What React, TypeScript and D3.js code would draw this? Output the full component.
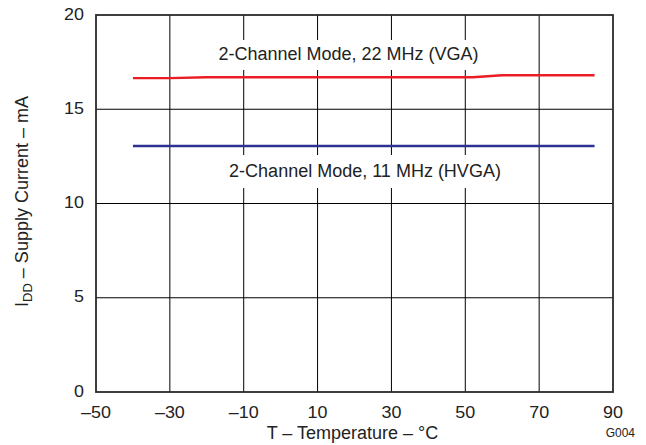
import React from "react";
import * as d3 from "d3";

const temps = [-40, -30, -20, -10, 0, 10, 20, 30, 40, 50, 52, 60, 70, 80, 85];
const vga22 = [16.65, 16.65, 16.7, 16.7, 16.7, 16.7, 16.7, 16.7, 16.7, 16.7, 16.7, 16.8, 16.8, 16.8, 16.8];
const hvga11 = [13.05, 13.05, 13.05, 13.05, 13.05, 13.05, 13.05, 13.05, 13.05, 13.05, 13.05, 13.05, 13.05, 13.05, 13.05];
const xTicks = [-50, -30, -10, 10, 30, 50, 70, 90];
const yTicks = [0, 5, 10, 15, 20];
const labelTop = "2-Channel Mode, 22 MHz (VGA)";
const labelBottom = "2-Channel Mode, 11 MHz (HVGA)";

const W = 646;
const H = 445;
const FONT = "'Liberation Sans', Arial, Helvetica, sans-serif";

export default function App() {
  const x = d3.scaleLinear().domain([-50, 90]).range([96, 613]);
  const y = d3.scaleLinear().domain([0, 20]).range([392, 15]);
  const line = d3
    .line<number>()
    .x((_, i) => x(temps[i]))
    .y((d) => y(d));

  const sx = 1.12;
  const tickFs = 16;

  return (
    <svg
      width={W}
      height={H}
      style={{ position: "absolute", left: 0, top: 0, background: "#fff" }}
      fontFamily={FONT}
    >
      <rect x={0} y={0} width={W} height={H} fill="#fff" />
      {/* grid */}
      {xTicks.slice(1, -1).map((t) => (
        <line key={"gx" + t} x1={x(t)} x2={x(t)} y1={y(20)} y2={y(0)} stroke="#000" strokeWidth={1} />
      ))}
      {yTicks.slice(1, -1).map((t) => (
        <line key={"gy" + t} x1={x(-50)} x2={x(90)} y1={y(t)} y2={y(t)} stroke="#000" strokeWidth={1} />
      ))}
      {/* label backgrounds */}
      <rect x={212} y={40} width={274} height={30} fill="#fff" />
      <rect x={221} y={155} width={289} height={33} fill="#fff" />
      {/* frame */}
      <rect
        x={x(-50)}
        y={y(20)}
        width={x(90) - x(-50)}
        height={y(0) - y(20)}
        fill="none"
        stroke="#2a2a2a"
        strokeWidth={1.8}
      />
      {/* series */}
      <path d={line(vga22) || ""} fill="none" stroke="#ec1c24" strokeWidth={2.4} />
      <path d={line(hvga11) || ""} fill="none" stroke="#2e3192" strokeWidth={2.4} />
      {/* in-plot labels */}
      <text x={348.5} y={60} fontSize={18} textAnchor="middle" fill="#222">
        {labelTop}
      </text>
      <text x={365} y={176.5} fontSize={18} textAnchor="middle" fill="#222">
        {labelBottom}
      </text>
      {/* y tick labels */}
      {yTicks.map((t) => (
        <text
          key={"yl" + t}
          transform={`translate(84,${y(t) + 4.5}) scale(${sx},1)`}
          fontSize={tickFs}
          textAnchor="end"
          fill="#222"
        >
          {t}
        </text>
      ))}
      {/* x tick labels */}
      {xTicks.map((t) => (
        <text
          key={"xl" + t}
          transform={`translate(${x(t)},418) scale(${sx},1)`}
          fontSize={tickFs}
          textAnchor="middle"
          fill="#222"
        >
          {t < 0 ? "\u2013" + Math.abs(t) : String(t)}
        </text>
      ))}
      {/* axis titles */}
      <text x={352.5} y={439} fontSize={18} textAnchor="middle" fill="#222">
        T – Temperature – °C
      </text>
      <text
        transform="translate(28,201.5) rotate(-90)"
        fontSize={18}
        textAnchor="middle"
        fill="#222"
      >
        I<tspan fontSize={13} dy={4}>DD</tspan>
        <tspan dy={-4}> – Supply Current – mA</tspan>
      </text>
      <text x={635} y={437} fontSize={12} textAnchor="end" fill="#222">
        G004
      </text>
    </svg>
  );
}
